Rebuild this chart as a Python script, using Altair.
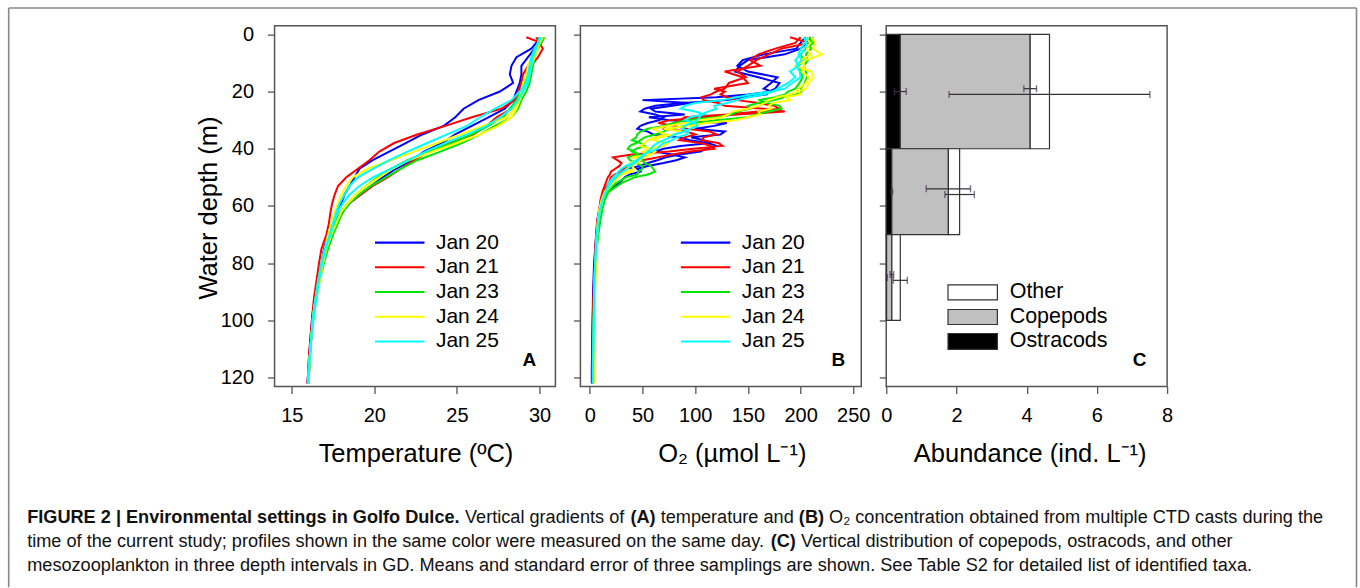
import altair as alt
import pandas as pd

# ---------------- data ----------------
days = ["Jan 20", "Jan 21", "Jan 23", "Jan 24", "Jan 25"]
day_colors = ["#0000FF", "#FF0000", "#00E600", "#FFFF00", "#00FFFF"]

# Panel A: temperature profiles (degC) on a common depth grid (m), two casts per day
temp_depth = [1, 3, 5, 8, 11, 14, 17, 20, 23, 26, 29, 32, 35, 38, 41, 44, 47, 50,
              53, 56, 59, 62, 66, 70, 75, 80, 86, 92, 98, 105, 112, 118, 122]
temp_jan20_a = [30.0, 29.8, 29.5, 28.6, 28.3, 28.2, 28.4, 27.6, 26.3, 25.4, 24.9, 24.2, 22.9, 21.9, 20.9, 19.9, 19.1, 18.8,
                18.5, 18.2, 18.0, 17.8, 17.5, 17.2, 16.95, 16.8, 16.55, 16.4, 16.25, 16.15, 16.05, 16.0, 15.95]
temp_jan20_b = [30.2, 30.0, 29.7, 29.3, 28.9, 28.9, 28.8, 28.6, 28.4, 27.9, 26.9, 25.9, 24.9, 24.1, 23.0, 22.3, 21.3, 20.5,
                19.8, 19.1, 18.5, 18.1, 17.7, 17.4, 17.0, 16.85, 16.6, 16.45, 16.3, 16.2, 16.1, 16.05, 16.0]
temp_jan21_a = [29.2, 30.1, 29.9, 29.6, 29.3, 29.0, 28.9, 28.7, 28.5, 27.7, 25.9, 24.3, 22.6, 21.2, 20.3, 19.7, 19.0, 18.3,
                17.8, 17.6, 17.45, 17.35, 17.25, 17.1, 16.8, 16.65, 16.5, 16.35, 16.25, 16.15, 16.05, 16.0, 15.95]
temp_jan21_b = [29.8, 30.0, 30.2, 29.9, 29.5, 29.2, 29.1, 28.8, 28.6, 28.3, 27.4, 26.8, 26.0, 24.6, 23.3, 22.4, 21.6, 20.8,
                19.9, 19.2, 18.5, 18.0, 17.6, 17.4, 17.1, 16.9, 16.6, 16.45, 16.3, 16.2, 16.1, 16.05, 16.0]
temp_jan23_a = [30.3, 30.1, 29.9, 29.7, 29.6, 29.5, 29.4, 29.2, 28.9, 28.7, 28.3, 27.3, 26.4, 25.3, 24.0, 22.6, 21.6, 20.7,
                19.8, 19.1, 18.5, 18.1, 17.8, 17.5, 17.2, 16.95, 16.7, 16.5, 16.35, 16.2, 16.1, 16.05, 16.0]
temp_jan23_b = [30.0, 29.9, 29.8, 29.6, 29.4, 29.3, 29.1, 28.9, 28.6, 28.2, 27.8, 26.9, 25.9, 24.7, 23.3, 22.0, 21.0, 20.2,
                19.5, 18.9, 18.4, 18.0, 17.6, 17.3, 17.0, 16.85, 16.65, 16.45, 16.3, 16.2, 16.1, 16.0, 16.0]
temp_jan24_a = [30.1, 30.0, 29.8, 29.5, 29.3, 29.2, 29.0, 28.9, 28.7, 28.5, 28.0, 26.6, 25.2, 23.8, 22.4, 21.0, 19.6, 18.7,
                18.3, 18.0, 17.8, 17.6, 17.4, 17.2, 17.0, 16.8, 16.6, 16.45, 16.3, 16.2, 16.1, 16.05, 16.0]
temp_jan24_b = [30.2, 30.0, 29.9, 29.7, 29.5, 29.3, 29.2, 29.0, 28.8, 28.6, 28.3, 27.5, 26.4, 25.0, 23.5, 22.1, 21.1, 20.3,
                19.5, 18.9, 18.4, 18.0, 17.7, 17.4, 17.1, 16.9, 16.7, 16.5, 16.35, 16.2, 16.1, 16.05, 16.0]
temp_jan25_a = [30.0, 29.9, 29.7, 29.5, 29.4, 29.3, 29.2, 28.8, 28.3, 27.3, 26.4, 25.6, 24.4, 23.2, 22.0, 20.9, 19.9, 19.0,
                18.5, 18.2, 17.9, 17.7, 17.5, 17.3, 17.0, 16.8, 16.6, 16.45, 16.3, 16.2, 16.1, 16.0, 16.0]
temp_jan25_b = [30.1, 29.9, 29.8, 29.6, 29.5, 29.4, 29.3, 29.0, 28.7, 28.3, 27.6, 26.8, 25.6, 24.3, 23.1, 22.1, 21.0, 19.9,
                19.1, 18.5, 18.1, 17.8, 17.55, 17.35, 17.05, 16.85, 16.65, 16.5, 16.35, 16.2, 16.1, 16.05, 16.0]

# Panel B: O2 profiles (umol/L) on a common depth grid (m), two casts per day
o2_depth = [1, 3, 5, 7, 9, 11, 13, 15, 17,
            19, 20, 21, 22, 23, 24, 25, 26, 27, 28, 29, 30, 31, 32, 33, 34, 35, 36, 37, 38, 39, 40,
            41, 42, 43, 44, 45, 46, 47, 48, 49, 50,
            52, 55, 58, 61, 65, 70, 75, 80, 85, 90, 95, 100, 106, 112, 118, 122]
o2_jan20_a = [205, 200, 196, 165, 145, 140, 150, 178, 172,
              165, 172, 150, 120, 50, 95, 78, 58, 62, 90, 56, 75, 130, 118, 100, 128, 124, 96, 108, 115, 86, 70,
              62, 78, 90, 82, 70, 55, 45, 48, 38, 33,
              28, 16, 12, 10, 8, 6.5, 5.5, 4.5, 4, 3.5, 3, 2.8, 2.5, 2.2, 2, 2]
o2_jan20_b = [210, 206, 200, 185, 150, 142, 138, 160, 180,
              176, 170, 168, 146, 130, 88, 62, 52, 48, 62, 70, 66, 55, 48, 45, 55, 60, 84, 95, 112, 120, 110,
              105, 85, 72, 64, 55, 47, 38, 33, 30, 26,
              22, 14, 11, 9, 7, 6, 5, 4, 3.5, 3, 2.8, 2.5, 2.3, 2, 1.8, 1.8]
o2_jan21_a = [190, 208, 182, 170, 158, 150, 140, 148, 132,
              128, 120, 115, 106, 108, 122, 128, 165, 185, 140, 110, 76, 65, 80, 92, 114, 120, 108, 106, 122, 126, 98,
              75, 40, 22, 26, 30, 28, 24, 20, 19, 17,
              15, 12, 10, 9, 7, 6, 5, 4.5, 4, 3.5, 3, 3, 2.6, 2.4, 2.2, 2]
o2_jan21_b = [200, 195, 176, 160, 152, 162, 128, 145, 150,
              118, 128, 124, 130, 140, 160, 175, 180, 160, 130, 90, 86, 80, 72, 70, 92, 100, 90, 85, 105, 115, 118,
              95, 78, 65, 50, 40, 38, 32, 30, 24, 20,
              18, 13, 11, 9.5, 8, 6.5, 5.5, 5, 4.5, 4, 3.5, 3.2, 3, 2.8, 2.5, 2.5]
o2_jan23_a = [212, 208, 210, 205, 207, 203, 205, 206, 204,
              200, 201, 196, 184, 175, 160, 150, 152, 140, 134, 120, 92, 80, 70, 55, 48, 45, 44, 40, 48, 52, 44,
              40, 47, 46, 50, 52, 58, 60, 62, 55, 42,
              30, 18, 14, 12, 10, 8, 6.5, 5.5, 5, 4.5, 4, 3.8, 3.5, 3.2, 3, 3]
o2_jan23_b = [208, 212, 205, 200, 203, 198, 200, 202, 199,
              195, 188, 185, 176, 160, 168, 180, 182, 170, 158, 150, 120, 100, 90, 75, 70, 62, 52, 48, 44, 38, 36,
              42, 46, 36, 38, 44, 50, 50, 46, 45, 34,
              25, 16, 12, 10, 8.5, 7, 6, 5, 4.5, 4, 3.8, 3.5, 3.2, 3, 2.8, 2.8]
o2_jan24_a = [210, 214, 212, 220, 205, 195, 210, 212, 208,
              205, 198, 200, 186, 190, 174, 170, 172, 160, 162, 150, 138, 110, 96, 70, 88, 80, 66, 60, 74, 70, 56,
              50, 58, 40, 48, 45, 38, 35, 40, 30, 27,
              22, 15, 12, 10, 8, 7, 6.5, 6, 5.5, 5, 5, 4.8, 4.5, 4.5, 4.2, 4.2]
o2_jan24_b = [205, 209, 206, 210, 200, 204, 201, 208, 205,
              198, 196, 190, 178, 170, 166, 160, 150, 135, 132, 125, 104, 90, 74, 60, 66, 72, 62, 55, 52, 48, 56,
              62, 58, 52, 44, 38, 40, 42, 34, 28, 24,
              20, 14, 11, 9, 7.5, 6.5, 6, 5.5, 5, 4.8, 4.5, 4.2, 4, 4, 3.8, 3.8]
o2_jan25_a = [207, 204, 200, 198, 201, 196, 199, 200, 192,
              185, 172, 152, 140, 125, 100, 90, 86, 100, 108, 95, 90, 100, 102, 95, 90, 80, 76, 70, 64, 60, 58,
              55, 52, 50, 44, 40, 34, 30, 27, 25, 22,
              18, 15, 12, 10, 8, 6.5, 5.5, 5, 4.5, 4, 3.8, 3.5, 3.2, 3, 3, 3]
o2_jan25_b = [203, 206, 204, 200, 195, 198, 190, 195, 188,
              178, 174, 165, 150, 140, 130, 118, 120, 112, 106, 104, 102, 96, 90, 88, 94, 92, 82, 78, 70, 66, 64,
              58, 50, 48, 46, 42, 38, 36, 31, 28, 24,
              20, 15, 12, 10, 8, 7, 6, 5, 4.5, 4.2, 4, 3.8, 3.5, 3.3, 3, 3]

# Panel C: abundance (ind. per L) in three depth intervals
interval_top = [0, 40, 70]
interval_bottom = [40, 70, 100]
taxa = ["Ostracods", "Copepods", "Other"]
taxa_fill = ["black", "#C0C0C0", "white"]
ostracods = [0.40, 0.16, 0.01]
copepods = [3.70, 1.61, 0.15]
other = [0.55, 0.32, 0.24]
se_ostracods = [0.17, 0.02, 0.02]
se_copepods = [0.18, 0.63, 0.05]
se_other = [2.86, 0.42, 0.20]

temp_ticks = [15, 20, 25, 30]
o2_ticks = [0, 50, 100, 150, 200, 250]
abund_ticks = [0, 2, 4, 6, 8]
depth_ticks = [0, 20, 40, 60, 80, 100, 120]

caption_lines = [
    [("FIGURE 2 | Environmental settings in Golfo Dulce.", True), (" Vertical gradients of ", False), ("(A)", True),
     (" temperature and ", False), ("(B)", True),
     (" O\u2082 concentration obtained from multiple CTD casts during the", False)],
    [("time of the current study; profiles shown in the same color were measured on the same day. ", False),
     ("(C)", True), (" Vertical distribution of copepods, ostracods, and other", False)],
    [("mesozooplankton in three depth intervals in GD. Means and standard error of three samplings are shown. "
      "See Table S2 for detailed list of identified taxa.", False)],
]

# ---------------- layout constants (pixels) ----------------
FONT = "Liberation Sans"
PW, PH = 281, 361          # plot area of each panel
A_LEFT, A_TOP = 273.5, 24  # page position of panel A plot area
SPACING = 25
Y_DOMAIN = [-3.04, 123.1]
LINE_W = 2.0

one = pd.DataFrame({"k": [0]})

# ---------------- build tables ----------------
temp_casts = [("Jan 20", "a", temp_jan20_a), ("Jan 20", "b", temp_jan20_b),
              ("Jan 21", "a", temp_jan21_a), ("Jan 21", "b", temp_jan21_b),
              ("Jan 23", "a", temp_jan23_a), ("Jan 23", "b", temp_jan23_b),
              ("Jan 24", "a", temp_jan24_a), ("Jan 24", "b", temp_jan24_b),
              ("Jan 25", "a", temp_jan25_a), ("Jan 25", "b", temp_jan25_b)]
o2_casts = [("Jan 20", "a", o2_jan20_a), ("Jan 20", "b", o2_jan20_b),
            ("Jan 21", "a", o2_jan21_a), ("Jan 21", "b", o2_jan21_b),
            ("Jan 23", "a", o2_jan23_a), ("Jan 23", "b", o2_jan23_b),
            ("Jan 24", "a", o2_jan24_a), ("Jan 24", "b", o2_jan24_b),
            ("Jan 25", "a", o2_jan25_a), ("Jan 25", "b", o2_jan25_b)]


def profile_table(casts, grid, name):
    rows = []
    for ci, (day, tag, vals) in enumerate(casts):
        assert len(vals) == len(grid), (day, tag, len(vals), len(grid))
        for i, (d, v) in enumerate(zip(grid, vals)):
            rows.append({"day": day, "cast": f"{ci:02d}{day}{tag}", "idx": i, "depth": d, name: v})
    return pd.DataFrame(rows)


temp_df = profile_table(temp_casts, temp_depth, "temp")
o2_df = profile_table(o2_casts, o2_depth, "o2")

bar_rows, err_rows = [], []
vals_by_taxon = {"Ostracods": ostracods, "Copepods": copepods, "Other": other}
se_by_taxon = {"Ostracods": se_ostracods, "Copepods": se_copepods, "Other": se_other}
offset_by_taxon = {"Ostracods": 0.0, "Copepods": -1.0, "Other": 1.0}
for j in range(3):
    start = 0.0
    for t in taxa:
        end = start + vals_by_taxon[t][j]
        bar_rows.append({"taxon": t, "x0": start, "x1": end,
                         "top": interval_top[j], "bottom": interval_bottom[j]})
        mid = (interval_top[j] + interval_bottom[j]) / 2 + offset_by_taxon[t]
        se = se_by_taxon[t][j]
        err_rows.append({"taxon": t, "lo": max(end - se, 0), "hi": end + se, "y": mid})
        start = end
bar_df = pd.DataFrame(bar_rows)
err_df = pd.DataFrame(err_rows)
err_caps = pd.concat([err_df.assign(x=err_df["lo"]), err_df.assign(x=err_df["hi"])])

# ---------------- helpers ----------------
color_scale = alt.Scale(domain=days, range=day_colors)
y_scale = alt.Scale(domain=Y_DOMAIN, reverse=True, nice=False, zero=False)
tick_style = dict(tickSize=7, tickWidth=1.3, tickColor="#555555", domain=False, grid=False,
                  labelFont=FONT, labelColor="black", labelFontSize=20, labelFlush=False, labelOverlap=False,
                  titleFont=FONT, titleColor="black", titleFontSize=25.5, titleFontWeight="normal")


def x_axis(values, title, title_x):
    return alt.Axis(values=values, title=title, labelPadding=12.5, titleX=title_x, titleY=67,
                    titleAlign="center", titleBaseline="middle", **tick_style)


def y_axis(labels):
    if labels:
        return alt.Axis(values=depth_ticks, title="Water depth (m)", labelPadding=14,
                        titleAngle=-90, titleX=-66, titleY=182, titleAlign="center",
                        titleBaseline="middle", **tick_style)
    return alt.Axis(values=depth_ticks, title=None, labels=False, **tick_style)


def line_legend():
    layers = []
    for i, (d, c) in enumerate(zip(days, day_colors)):
        yy = 217 + 24.75 * i
        layers.append(alt.Chart(one).mark_rule(strokeWidth=2.2, color=c).encode(
            x=alt.value(100.5), x2=alt.value(150), y=alt.value(yy)))
        layers.append(alt.Chart(one).mark_text(align="left", baseline="middle", font=FONT, fontSize=21,
                                               color="black").encode(
            x=alt.value(161.5), y=alt.value(yy), text=alt.value(d)))
    return layers


def panel_letter(letter, x):
    return alt.Chart(one).mark_text(align="center", baseline="middle", font=FONT, fontSize=19,
                                    fontWeight="bold", color="black").encode(
        x=alt.value(x), y=alt.value(335), text=alt.value(letter))


# caption text widths (Arial / Liberation Sans metrics, 1/1000 em)
REG = {' ': 278, '(': 333, ')': 333, '.': 278, ',': 278, ';': 278, '|': 260, '\u2082': 334, '-': 333}
REG.update({d: 556 for d in "0123456789"})
REG.update(dict(zip("ABCDEFGHIJKLMNOPQRSTUVWXYZ",
                    [667, 667, 722, 722, 667, 611, 778, 722, 278, 500, 667, 556, 833, 722, 778, 667, 778, 722, 667,
                     611, 722, 667, 944, 667, 667, 611])))
REG.update(dict(zip("abcdefghijklmnopqrstuvwxyz",
                    [556, 556, 500, 556, 556, 278, 556, 556, 222, 222, 500, 222, 833, 556, 556, 556, 556, 333, 500,
                     278, 556, 500, 722, 500, 500, 500])))
BOLD = {' ': 278, '(': 333, ')': 333, '.': 278, ',': 278, '|': 280}
BOLD.update({d: 556 for d in "0123456789"})
BOLD.update(dict(zip("ABCDEFGHIJKLMNOPQRSTUVWXYZ",
                     [722, 722, 722, 722, 667, 611, 778, 722, 278, 556, 722, 611, 833, 722, 778, 667, 778, 722, 667,
                      611, 722, 667, 944, 667, 667, 611])))
BOLD.update(dict(zip("abcdefghijklmnopqrstuvwxyz",
                     [556, 611, 556, 611, 556, 333, 611, 611, 278, 278, 556, 278, 889, 611, 611, 611, 611, 389, 556,
                      333, 611, 556, 778, 556, 556, 500])))


def em(s, bold):
    t = BOLD if bold else REG
    return sum(t.get(ch, 556) for ch in s) / 1000.0


CAP_LEFT = 26
CAP_Y = [517, 541, 565]
cap_size = round(1296 / sum(em(s, b) for s, b in caption_lines[0]), 2)

caption_layers = []
for line, ypix in zip(caption_lines, CAP_Y):
    cur = CAP_LEFT
    for seg, bold in line:
        lead = len(seg) - len(seg.lstrip(" "))
        xs = cur + em(" " * lead, bold) * cap_size
        caption_layers.append(alt.Chart(one).mark_text(
            align="left", baseline="middle", font=FONT, fontSize=cap_size,
            fontWeight="bold" if bold else "normal", color="#111111").encode(
            x=alt.value(xs - A_LEFT), y=alt.value(ypix - A_TOP), text=alt.value(seg.strip(" "))))
        cur += em(seg, bold) * cap_size

# outer frame (left, top, right edges)
BX0, BY0, BX1, BY1 = 7.5, 6.3, 1356, 586
frame_layers = [
    alt.Chart(one).mark_rule(color="#888888", strokeWidth=1.6).encode(
        x=alt.value(BX0 - A_LEFT), y=alt.value(BY0 - A_TOP), y2=alt.value(BY1 - A_TOP)),
    alt.Chart(one).mark_rule(color="#888888", strokeWidth=1.6).encode(
        x=alt.value(BX0 - A_LEFT), x2=alt.value(BX1 - A_LEFT), y=alt.value(BY0 - A_TOP)),
    alt.Chart(one).mark_rule(color="#888888", strokeWidth=1.6).encode(
        x=alt.value(BX1 - A_LEFT), y=alt.value(BY0 - A_TOP), y2=alt.value(BY1 - A_TOP)),
]

# ---------------- panel A ----------------
lines_a = alt.Chart(temp_df).mark_line(strokeWidth=LINE_W).encode(
    x=alt.X("temp:Q", scale=alt.Scale(domain=[13.96, 30.96], nice=False, zero=False),
            axis=x_axis(temp_ticks, "Temperature (\u00baC)", 141)),
    y=alt.Y("depth:Q", scale=y_scale, axis=y_axis(True)),
    color=alt.Color("day:N", scale=color_scale, legend=None),
    detail="cast:N",
    order="idx:Q",
)
panel_a = alt.layer(lines_a, *line_legend(), panel_letter("A", 255), *caption_layers, *frame_layers).properties(
    width=PW, height=PH)

# ---------------- panel B ----------------
lines_b = alt.Chart(o2_df).mark_line(strokeWidth=LINE_W).encode(
    x=alt.X("o2:Q", scale=alt.Scale(domain=[-9.0, 257.6], nice=False, zero=False),
            axis=x_axis(o2_ticks, "O\u2082 (\u00b5mol L\u207b\u00b9)", 151.5)),
    y=alt.Y("depth:Q", scale=y_scale, axis=y_axis(False)),
    color=alt.Color("day:N", scale=color_scale, legend=None),
    detail="cast:N",
    order="idx:Q",
)
panel_b = alt.layer(lines_b, *line_legend(), panel_letter("B", 258)).properties(width=PW, height=PH)

# ---------------- panel C ----------------
x_c = alt.Scale(domain=[0, 8], nice=False, zero=False)
bars = alt.Chart(bar_df).mark_rect(stroke="#333333", strokeWidth=1.2).encode(
    x=alt.X("x0:Q", scale=x_c, axis=x_axis(abund_ticks, "Abundance (ind. L\u207b\u00b9)", 143.5)),
    x2="x1:Q",
    y=alt.Y("top:Q", scale=y_scale, axis=y_axis(False)),
    y2="bottom:Q",
    fill=alt.Fill("taxon:N", scale=alt.Scale(domain=taxa, range=taxa_fill), legend=None),
)
err_lines = alt.Chart(err_df).mark_rule(color="#333333", strokeWidth=1.2).encode(
    x="lo:Q", x2="hi:Q", y="y:Q")
err_ticks = alt.Chart(err_caps).mark_tick(orient="vertical", size=7, thickness=1.4, color="#4a3358").encode(
    x="x:Q", y="y:Q")

legend_c = []
box_y = [(259.3, 274.3), (284, 299), (308, 324)]
legend_order = ["Other", "Copepods", "Ostracods"]
for t, (y0, y1) in zip(legend_order, box_y):
    legend_c.append(alt.Chart(one).mark_rect(stroke="#333333", strokeWidth=1.2,
                                             fill=taxa_fill[taxa.index(t)]).encode(
        x=alt.value(61.8), x2=alt.value(111.2), y=alt.value(y0), y2=alt.value(y1)))
    legend_c.append(alt.Chart(one).mark_text(align="left", baseline="middle", font=FONT, fontSize=21.5,
                                             color="black").encode(
        x=alt.value(123.5), y=alt.value((y0 + y1) / 2), text=alt.value(t)))

panel_c = alt.layer(bars, err_lines, err_ticks, *legend_c, panel_letter("C", 253.5)).properties(
    width=PW, height=PH)

chart = alt.hconcat(panel_a, panel_b, panel_c, spacing=SPACING, bounds="flush").properties(
    padding={"left": 6.7, "top": 5.5, "right": 1, "bottom": 0},
    background="white",
).configure_view(stroke="#555555", strokeWidth=1.5)

chart.save("out.html", embed_options={"renderer": "svg", "actions": False})
